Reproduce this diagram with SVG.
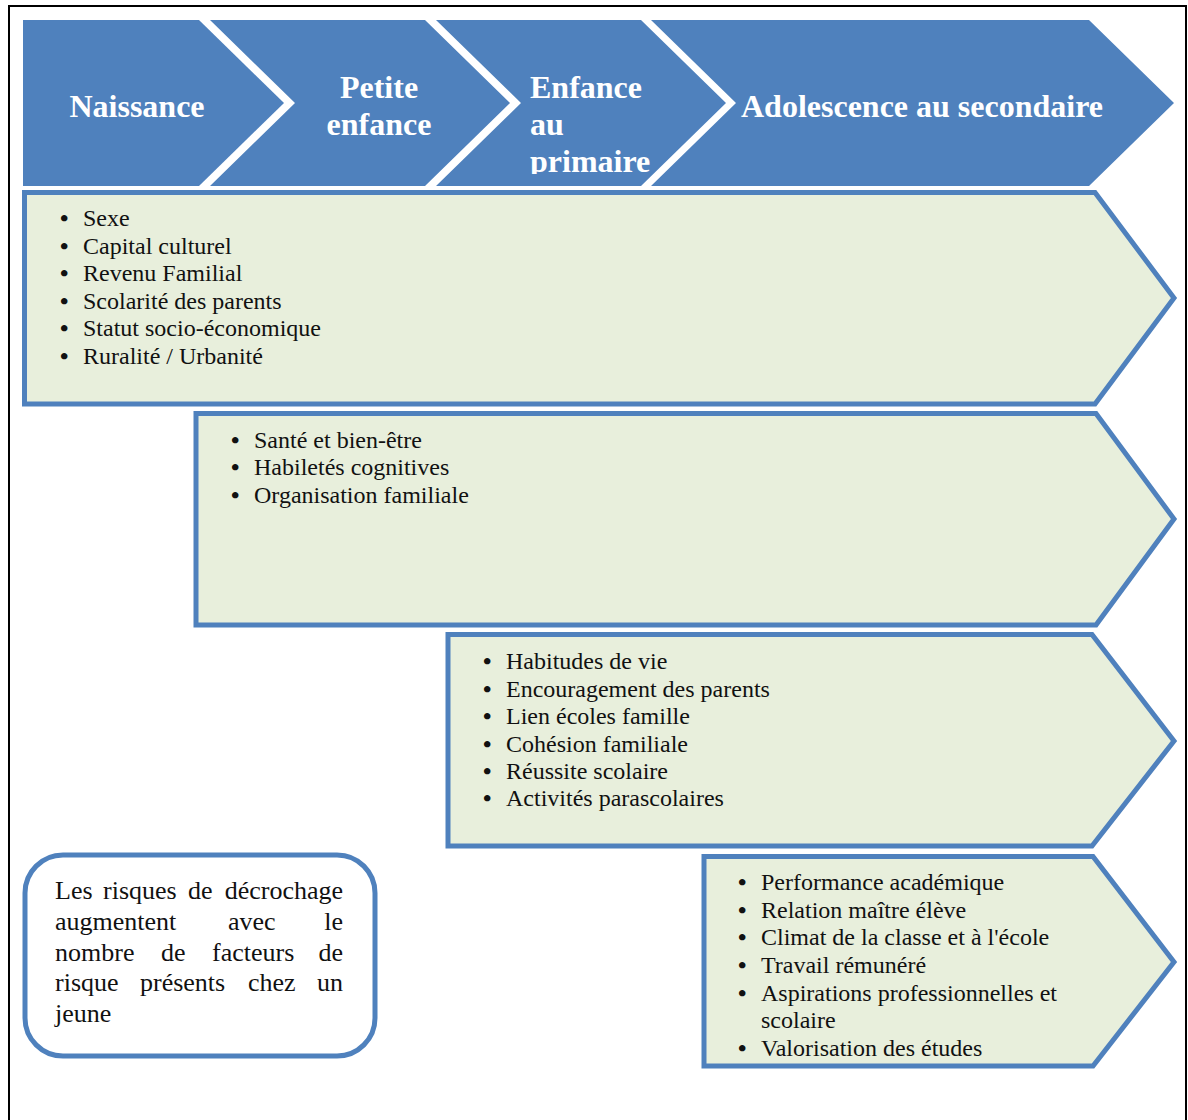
<svg xmlns="http://www.w3.org/2000/svg" width="1188" height="1120" viewBox="0 0 1188 1120">
  <defs>
    <style>
      .chev { fill: #4F81BD; stroke: none; }
      .ctext { font-family: "Liberation Serif", "Times New Roman", serif; font-weight: bold; font-size: 32px; fill: #FFFFFF; }
      .box { fill: #E8EFDC; stroke: #4F81BD; stroke-width: 5; stroke-linejoin: miter; }
      .btext { font-family: "Liberation Serif", "Times New Roman", serif; font-size: 24px; fill: #111111; }
      .bul { font-size: 24px; font-weight: bold; }
      .note { fill: #FFFFFF; stroke: #4F81BD; stroke-width: 5; }
      .ntext { font-family: "Liberation Serif", "Times New Roman", serif; font-size: 26px; fill: #111111; }
    </style>
    <clipPath id="clip3">
      <rect x="436" y="20" width="300" height="154"/>
    </clipPath>
  </defs>
  <rect x="0" y="0" width="1188" height="1120" fill="#FFFFFF"/>
  <rect x="9" y="6" width="1177" height="1140" fill="none" stroke="#000000" stroke-width="2"/>

  <g id="stage-naissance">
    <polygon class="chev" points="23,20 199,20 284,103 199,186 23,186"/>
    <text class="ctext" x="137" y="117" text-anchor="middle">Naissance</text>
  </g>
  <g id="stage-petite-enfance">
    <polygon class="chev" points="210,20 425,20 510,103 425,186 210,186 295,103"/>
    <text class="ctext" x="379" y="98" text-anchor="middle">Petite</text>
    <text class="ctext" x="379" y="135" text-anchor="middle">enfance</text>
  </g>
  <g id="stage-enfance-primaire">
    <polygon class="chev" points="436,20 641,20 726,103 641,186 436,186 521,103"/>
    <g clip-path="url(#clip3)">
      <text class="ctext" x="530" y="98">Enfance</text>
      <text class="ctext" x="530" y="135">au</text>
      <text class="ctext" x="530" y="172">primaire</text>
    </g>
  </g>
  <g id="stage-adolescence">
    <polygon class="chev" points="651,20 1089,20 1174,103 1089,186 651,186 736,103"/>
    <text class="ctext" x="741" y="117">Adolescence au secondaire</text>
  </g>

  <g id="factors-naissance">
    <polygon class="box" points="24.5,192.5 1095,192.5 1174,298 1095,404 24.5,404"/>
    <g class="btext">
      <text class="bul" x="60" y="226">•</text><text x="83" y="226">Sexe</text>
      <text class="bul" x="60" y="253.6">•</text><text x="83" y="253.6">Capital culturel</text>
      <text class="bul" x="60" y="281.2">•</text><text x="83" y="281.2">Revenu Familial</text>
      <text class="bul" x="60" y="308.8">•</text><text x="83" y="308.8">Scolarité des parents</text>
      <text class="bul" x="60" y="336.4">•</text><text x="83" y="336.4">Statut socio-économique</text>
      <text class="bul" x="60" y="364">•</text><text x="83" y="364">Ruralité / Urbanité</text>
    </g>
  </g>

  <g id="factors-petite-enfance">
    <polygon class="box" points="196,413.5 1096,413.5 1174,519 1096,625 196,625"/>
    <g class="btext">
      <text class="bul" x="231" y="447.5">•</text><text x="254" y="447.5">Santé et bien-être</text>
      <text class="bul" x="231" y="475">•</text><text x="254" y="475">Habiletés cognitives</text>
      <text class="bul" x="231" y="502.5">•</text><text x="254" y="502.5">Organisation familiale</text>
    </g>
  </g>

  <g id="factors-primaire">
    <polygon class="box" points="448,634.5 1092,634.5 1174,741 1092,846 448,846"/>
    <g class="btext">
      <text class="bul" x="483" y="669">•</text><text x="506" y="669">Habitudes de vie</text>
      <text class="bul" x="483" y="696.5">•</text><text x="506" y="696.5">Encouragement des parents</text>
      <text class="bul" x="483" y="724">•</text><text x="506" y="724">Lien écoles famille</text>
      <text class="bul" x="483" y="751.5">•</text><text x="506" y="751.5">Cohésion familiale</text>
      <text class="bul" x="483" y="778.5">•</text><text x="506" y="778.5">Réussite scolaire</text>
      <text class="bul" x="483" y="806">•</text><text x="506" y="806">Activités parascolaires</text>
    </g>
  </g>

  <g id="factors-secondaire">
    <polygon class="box" points="704,856.5 1093,856.5 1174,962 1093,1066 704,1066"/>
    <g class="btext">
      <text class="bul" x="738" y="890">•</text><text x="761" y="890">Performance académique</text>
      <text class="bul" x="738" y="917.5">•</text><text x="761" y="917.5">Relation maître élève</text>
      <text class="bul" x="738" y="945">•</text><text x="761" y="945">Climat de la classe et à l'école</text>
      <text class="bul" x="738" y="972.5">•</text><text x="761" y="972.5">Travail rémunéré</text>
      <text class="bul" x="738" y="1000.5">•</text><text x="761" y="1000.5">Aspirations professionnelles et</text>
      <text x="761" y="1028">scolaire</text>
      <text class="bul" x="738" y="1055.5">•</text><text x="761" y="1055.5">Valorisation des études</text>
    </g>
  </g>

  <g id="note-risques">
    <rect class="note" x="25" y="855" width="350" height="201" rx="38" ry="38"/>
    <g class="ntext">
      <text x="55" y="899">Les</text>
      <text x="103" y="899">risques</text>
      <text x="188" y="899">de</text>
      <text x="343" y="899" text-anchor="end">décrochage</text>
      <text x="55" y="930">augmentent</text>
      <text x="228" y="930">avec</text>
      <text x="343" y="930" text-anchor="end">le</text>
      <text x="55" y="960.5">nombre</text>
      <text x="161" y="960.5">de</text>
      <text x="212" y="960.5">facteurs</text>
      <text x="343" y="960.5" text-anchor="end">de</text>
      <text x="55" y="991">risque</text>
      <text x="140" y="991">présents</text>
      <text x="248" y="991">chez</text>
      <text x="343" y="991" text-anchor="end">un</text>
      <text x="55" y="1022">jeune</text>
    </g>
  </g>

  <g id="connectors"></g>
</svg>
